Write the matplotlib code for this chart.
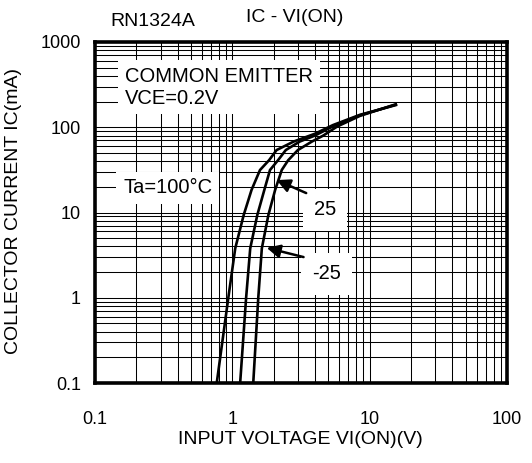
import numpy as np
import matplotlib
matplotlib.use("Agg")
import matplotlib.pyplot as plt
from matplotlib.ticker import FixedLocator, LogLocator, NullFormatter

plt.rcParams['font.family'] = ['Liberation Sans', 'DejaVu Sans']

# curve data: input voltage (V) vs collector current (mA)
vi_100 = [0.77, 0.935, 1.05, 1.21, 1.38, 1.59, 1.85, 2.1, 2.8, 4.0, 5.4, 8.5, 15.5]
ic_100 = [0.1, 1, 3.8, 9.35, 18.4, 31.5, 41, 54, 68, 84, 106, 140, 182]

vi_25 = [1.14, 1.26, 1.35, 1.52, 1.71, 1.88, 2.15, 2.45, 3.1, 4.0, 5.5, 8.5, 15.5]
ic_25 = [0.1, 1, 3.8, 9.35, 18.4, 31.5, 41, 54, 68, 80, 104, 138, 184]

vi_m25 = [1.42, 1.545, 1.64, 1.83, 2.05, 2.29, 2.55, 3.0, 3.8, 4.6, 5.8, 8.5, 15.5]
ic_m25 = [0.1, 1, 3.8, 9.35, 18.4, 31.5, 41, 54, 68, 80, 102, 136, 186]

x_ticks = [0.1, 1, 10, 100]
x_labels = ['0.1', '1', '10', '100']
y_ticks = [0.1, 1, 10, 100, 1000]
y_labels = ['0.1', '1', '10', '100', '1000']

W, H = 532, 463
fig = plt.figure(figsize=(W / 100, H / 100), dpi=100)
ax = fig.add_axes([95 / W, 1 - 383 / H, 412 / W, 341 / H])

ax.set_xscale('log')
ax.set_yscale('log')
ax.set_xlim(0.1, 100)
ax.set_ylim(0.1, 1000)

ax.xaxis.set_major_locator(FixedLocator(x_ticks))
ax.yaxis.set_major_locator(FixedLocator(y_ticks))
ax.set_xticklabels(x_labels)
ax.set_yticklabels(y_labels)
ax.xaxis.set_minor_locator(LogLocator(base=10, subs=np.arange(2, 10)))
ax.yaxis.set_minor_locator(LogLocator(base=10, subs=np.arange(2, 10)))
ax.xaxis.set_minor_formatter(NullFormatter())
ax.yaxis.set_minor_formatter(NullFormatter())
ax.tick_params(which='both', length=0)
ax.tick_params(axis='x', pad=20, labelsize=13)
ax.tick_params(axis='y', pad=10, labelsize=13)

ax.grid(which='both', color='black', lw=0.75)
ax.set_axisbelow(True)
for s in ax.spines.values():
    s.set_linewidth(2.6)

for vi, ic in [(vi_100, ic_100), (vi_25, ic_25), (vi_m25, ic_m25)]:
    ax.plot(vi, ic, color='black', lw=1.9, zorder=3, solid_joinstyle='round')

box = dict(facecolor='white', edgecolor='none', pad=5)
ax.text(0.073, 0.868, 'COMMON EMITTER\nVCE=0.2V', transform=ax.transAxes,
        fontsize=14.5, ha='left', va='center', linespacing=1.2, bbox=box, zorder=4)
ax.text(0.068, 0.572, 'Ta=100°C', transform=ax.transAxes,
        fontsize=14.5, ha='left', va='center', bbox=box, zorder=4)
ax.text(4.75, 10.7, '25', fontsize=14.5, ha='center', va='center',
        bbox=dict(facecolor='white', edgecolor='none', pad=8), zorder=4)
ax.text(4.85, 1.9, '-25', fontsize=14.5, ha='center', va='center',
        bbox=dict(facecolor='white', edgecolor='none', pad=8), zorder=4)

arrow = dict(arrowstyle='-|>', color='black', lw=1.8, mutation_scale=20,
             shrinkA=0, shrinkB=0)
ax.annotate('', xy=(2.1, 24), xytext=(3.45, 16.9), arrowprops=arrow, zorder=5)
ax.annotate('', xy=(1.78, 3.85), xytext=(3.3, 3.0), arrowprops=arrow, zorder=5)

fig.text(153 / W, 1 - 21 / H, 'RN1324A', fontsize=14, ha='center', va='center')
fig.text(295 / W, 1 - 17 / H, 'IC - VI(ON)', fontsize=14, ha='center', va='center')
fig.text(300 / W, 1 - 440 / H, 'INPUT VOLTAGE VI(ON)(V)', fontsize=14,
         ha='center', va='center')
fig.text(14 / W, 1 - 211 / H, 'COLLECTOR CURRENT IC(mA)', fontsize=14,
         ha='center', va='center', rotation=90)

fig.savefig('out.png', dpi=100)
